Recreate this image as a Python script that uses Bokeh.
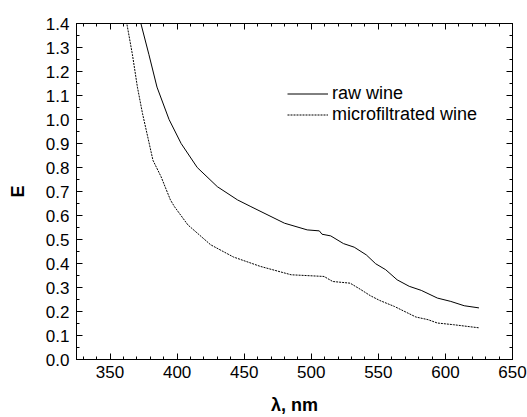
from bokeh.plotting import figure
from bokeh.models import (Range1d, LinearAxis, SingleIntervalTicker, PrintfTickFormatter,
                          Legend, LegendItem, CustomLabelingPolicy, CustomJSTickFormatter)
from bokeh.embed import file_html
from bokeh.resources import INLINE

# --- data ---
raw_wl = [371, 373, 379, 385, 394, 403, 415, 430, 445, 455, 480, 497, 506, 508, 514.5,
          524, 532, 541, 548, 555.5, 564, 573, 582, 594, 604, 614, 625]
raw_E = [1.46, 1.40, 1.27, 1.135, 1.00, 0.90, 0.80, 0.72, 0.665, 0.637, 0.568, 0.540, 0.536,
         0.522, 0.515, 0.483, 0.468, 0.436, 0.399, 0.374, 0.332, 0.305, 0.288, 0.256, 0.242,
         0.224, 0.215]
micro_wl = [361, 362.5, 366.7, 370.4, 374.2, 378, 382, 388, 395, 398, 408, 425, 442, 462, 485,
            509.5, 516, 529, 537, 544, 551, 562, 578, 587, 594, 606, 625]
micro_E = [1.47, 1.40, 1.27, 1.135, 1.025, 0.93, 0.83, 0.762, 0.665, 0.637, 0.561, 0.478,
           0.427, 0.388, 0.353, 0.346, 0.325, 0.318, 0.291, 0.266, 0.246, 0.221, 0.177, 0.166,
           0.152, 0.145, 0.132]
series_names = ["raw wine", "microfiltrated wine"]
x_label = "λ, nm"
y_label = "E"

FONT = "Liberation Sans"

p = figure(width=527, height=417, output_backend="svg", toolbar_location=None,
           x_range=Range1d(325, 650), y_range=Range1d(0, 1.4000001),
           min_border_left=76, min_border_right=15, min_border_top=23, min_border_bottom=57)
p.background_fill_color = "white"
p.border_fill_color = "white"
p.outline_line_color = "black"
p.outline_line_width = 1
p.xgrid.visible = False
p.ygrid.visible = False

r1 = p.line(raw_wl, raw_E, line_color="black", line_width=1)
r2 = p.line(micro_wl, micro_E, line_color="black", line_width=1, line_dash="2 1")

def style(ax):
    ax.major_tick_in = 6
    ax.major_tick_out = 0
    ax.minor_tick_in = 3
    ax.minor_tick_out = 0
    ax.axis_line_color = "black"
    ax.major_tick_line_color = "black"
    ax.minor_tick_line_color = "black"
    ax.major_label_text_font = FONT
    ax.major_label_text_font_size = "17px"
    ax.major_label_text_color = "black"
    ax.axis_label_text_font = FONT
    ax.axis_label_text_font_size = "18px"
    ax.axis_label_text_font_style = "bold"
    ax.axis_label_text_color = "black"

p.xaxis.ticker = SingleIntervalTicker(interval=50, num_minor_ticks=5)
p.yaxis.ticker = SingleIntervalTicker(interval=0.1, num_minor_ticks=2)
p.yaxis.formatter = PrintfTickFormatter(format="%.1f")
p.xaxis.axis_label = x_label
p.yaxis.axis_label = y_label
style(p.xaxis[0])
style(p.yaxis[0])
p.xaxis.major_label_standoff = 6
p.yaxis.major_label_standoff = 7
p.xaxis.axis_label_standoff = 14
p.yaxis.axis_label_standoff = 15

def mirror_axis(interval, minor):
    no_labels = CustomLabelingPolicy(code="""
        for (const i of indices) indices.unset(i)
        return indices
    """)
    ax = LinearAxis(ticker=SingleIntervalTicker(interval=interval, num_minor_ticks=minor),
                    major_label_policy=no_labels,
                    formatter=CustomJSTickFormatter(code="return ''"))
    style(ax)
    ax.major_label_standoff = 0
    return ax

p.add_layout(mirror_axis(50, 5), "above")
p.add_layout(mirror_axis(0.1, 2), "right")

legend = Legend(items=[LegendItem(label=series_names[0], renderers=[r1]),
                       LegendItem(label=series_names[1], renderers=[r2])],
                location=(211, 234))
legend.border_line_color = None
legend.background_fill_alpha = 0
legend.padding = 0
legend.margin = 0
legend.spacing = 0
legend.glyph_width = 41
legend.glyph_height = 21
legend.label_height = 21
legend.label_standoff = 4
legend.label_text_font = FONT
legend.label_text_font_size = "18px"
legend.label_text_color = "black"
p.add_layout(legend, "center")

open("out.html", "w").write(file_html(p, INLINE))
